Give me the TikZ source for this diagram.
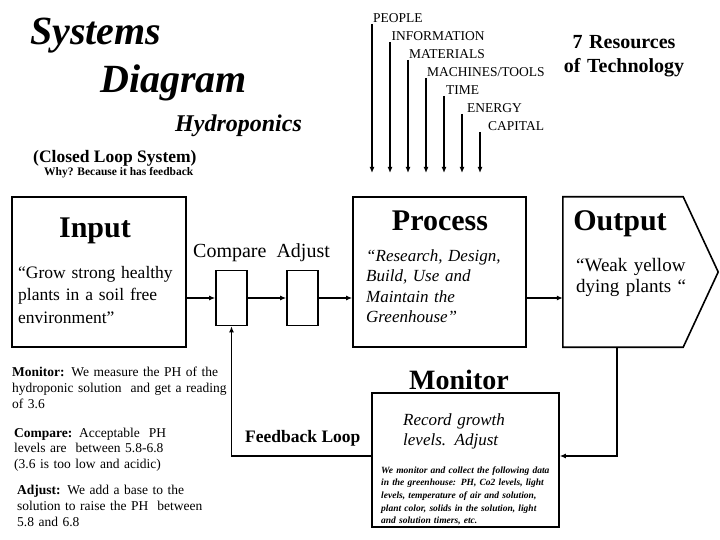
\documentclass[tikz,border=0pt]{standalone}
\usepackage{fontspec}
\setmainfont{Liberation Serif}
\usetikzlibrary{arrows.meta,positioning}
\newcommand{\sz}[2]{\fontsize{#1}{#2}\selectfont}

\begin{document}
\begin{tikzpicture}[x=1pt,y=-1pt,
    >={Latex[length=6pt,width=5pt]},
    stage/.style={draw,line width=1.6pt,inner sep=0pt},
    flow/.style={->,line width=1.6pt},
    txt/.style={anchor=base west,inner sep=0pt},
    res/.style={txt,font=\sz{13.5}{16}},
    resarrow/.style={->,line width=1.2pt},
    heading/.style={anchor=base,inner sep=0pt,font=\sz{30}{36}\bfseries},
    body/.style={anchor=base west,inner sep=0pt,align=left,text width=#1}
  ]
  \useasboundingbox (0,0) rectangle (720,540);

  \node[txt,font=\sz{40}{44}\bfseries\itshape] (systems) at (30,45) {Systems};
  \node[txt,font=\sz{40}{44}\bfseries\itshape] (diagram) at (100,93) {Diagram};
  \node[txt,font=\sz{24}{28}\bfseries\itshape] (hydro) at (175,132) {Hydroponics};
  \node[txt,font=\sz{17.5}{20}\bfseries] (closed) at (33,163) {(Closed Loop System)};
  \node[txt,font=\sz{11.5}{13}\bfseries] (why) at (44,176) {Why? Because it has feedback};

  \coordinate (foot) at (0,173);
  \foreach \res/\dx [count=\i from 0] in {PEOPLE/1,INFORMATION/1.5,MATERIALS/1,MACHINES\slash TOOLS/1,TIME/2,ENERGY/5,CAPITAL/8}{
    \node[res] (res\i) at ({372+\dx+18*\i},{22.5+18*\i}) {\res};
    \path ([xshift=-\dx pt,yshift=-1.5pt]res\i.base west) coordinate (top\i);
    \draw[resarrow] (top\i) -- (top\i |- foot);
  }
  \node[anchor=base,inner sep=0pt,align=center,text width=150pt,font=\sz{20}{24}\bfseries]
    (sevenres) at (624,49) {7 Resources\\of Technology};

  \node[stage,minimum width=174,minimum height=150] (input) at (99,272) {};
  \node[stage,minimum width=31,minimum height=55] (compare) at (231.5,298) {};
  \node[stage,minimum width=31,minimum height=55] (adjust) at (302.5,298) {};
  \node[stage,minimum width=173,minimum height=150] (process) at (439.5,272) {};
  \node[inner sep=0pt,minimum width=155,minimum height=150] (output) at (640.5,272) {};
  \draw[line width=1.6pt] (output.north west) -- ([xshift=-35pt]output.north east)
    -- (output.east) -- ([xshift=-35pt]output.south east) -- (output.south west) -- cycle;
  \node[stage,minimum width=187,minimum height=134] (monitor) at (465.5,460) {};

  \draw[flow] (input.east |- compare.west) -- (compare.west);
  \draw[flow] (compare) -- (adjust);
  \draw[flow] (adjust.east) -- (process.west |- adjust.east);
  \draw[flow] (process.east |- adjust.east) -- (output.west |- adjust.east);
  \draw[flow] ([xshift=-23.5pt]output.south) |- ([yshift=4pt]monitor.east);
  \draw[flow] ([yshift=4pt]monitor.west) -| (compare.south);

  \node[heading] (inputtitle) at (95,237) {Input};
  \node[body=180pt,font=\sz{17.5}{22.5}] (inputtext) at (18,278)
    {“Grow strong healthy\\plants in a soil free\\environment”};
  \node[txt,font=\sz{20}{24}] (cmpadj) at (193,257) {Compare\ \ Adjust};
  \node[heading] (processtitle) at (440,230) {Process};
  \node[body=170pt,font=\sz{17}{20.5}\itshape] (processtext) at (366,261)
    {“Research, Design,\\Build, Use and\\Maintain the\\Greenhouse”};
  \node[heading] (outputtitle) at (620,230) {Output};
  \node[body=140pt,font=\sz{19}{21}] (outputtext) at (576,271)
    {“Weak yellow\\dying plants “};

  \node[heading,font=\sz{28}{32}\bfseries] (monitortitle) at (459,389) {Monitor};
  \node[body=160pt,font=\sz{17}{20}\itshape] (monitortext) at (403,425)
    {Record growth\\levels. Adjust};
  \node[body=180pt,font=\sz{9.5}{12.7}\bfseries\itshape] (monitordata) at (381,473)
    {We monitor and collect the following data\\in the greenhouse: PH, Co2 levels, light\\levels, temperature of air and solution,\\plant color, solids in the solution, light\\and solution timers,\ etc.};
  \node[txt,font=\sz{17.5}{20}\bfseries] (fbloop) at (245,442) {Feedback Loop};

  \node[body=240pt,font=\sz{13.5}{16}] (monitornote) at (12,376)
    {\textbf{Monitor:} We measure the PH of the\\hydroponic solution\ \ and get a reading\\of 3.6};
  \node[body=240pt,font=\sz{13.5}{15.5}] (comparenote) at (14,437)
    {\textbf{Compare:} Acceptable\ \ PH\\levels are\ \ between 5.8-6.8\\(3.6 is too low and acidic)};
  \node[body=240pt,font=\sz{13.5}{16}] (adjustnote) at (17,494)
    {\textbf{Adjust:} We add a base to the\\solution to raise the PH\ \ between\\5.8 and 6.8};
\end{tikzpicture}
\end{document}
